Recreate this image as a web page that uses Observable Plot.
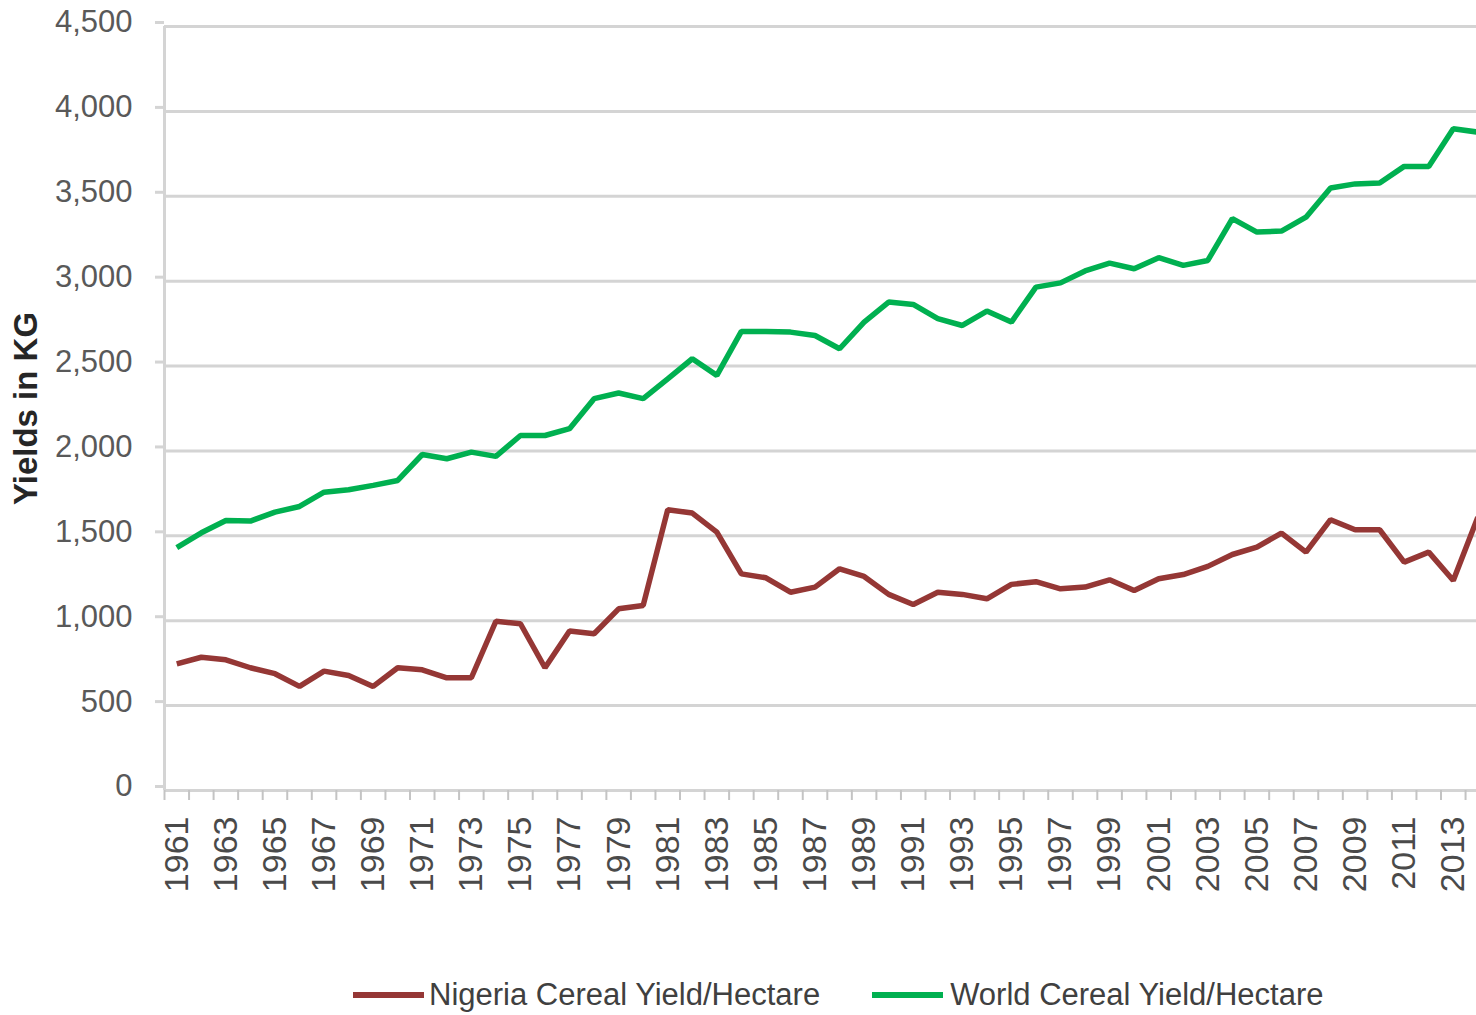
<!DOCTYPE html>
<html><head><meta charset="utf-8">
<script src="https://cdn.jsdelivr.net/npm/d3@7"></script>
<script src="https://cdn.jsdelivr.net/npm/@observablehq/plot@0.6"></script>
<style>
html,body{margin:0;padding:0;background:#fff;overflow:hidden}
#wrap{position:relative;width:1476px;height:1015px}
#wrap svg{display:block}
.legend{position:absolute;left:353px;top:977px;height:36px;display:flex;align-items:center;font-family:"Liberation Sans",Arial,sans-serif;font-size:31px;line-height:36px;color:#404040;white-space:nowrap}
.sw{display:inline-block;width:71px;height:6px}
</style></head><body><div id="wrap"></div>
<script>
const years = d3.range(1961, 2015);
const nigeria = [746,785,770,723,688,613,703,677,613,723,
  711,664,664,997,982,723,939,923,1070,1090,
  1654,1634,1522,1276,1253,1168,1198,1306,1261,1155,
  1096,1168,1155,1129,1214,1230,1188,1198,1241,1178,
  1247,1272,1320,1390,1433,1516,1404,1595,1536,1536,
  1345,1404,1237,1610];
const world = [1430,1518,1590,1587,1640,1673,1757,1771,1797,1826,
  1979,1954,1993,1968,2091,2091,2131,2308,2341,2308,
  2425,2543,2445,2704,2704,2700,2680,2602,2759,2877,
  2863,2779,2739,2824,2759,2965,2990,3060,3106,3073,
  3138,3093,3122,3368,3289,3295,3377,3549,3573,3578,
  3676,3676,3898,3878];
const seriesNames = ["Nigeria Cereal Yield/Hectare", "World Cereal Yield/Hectare"];
const seriesColors = ["#953735", "#00b050"];
const yTicks = d3.range(0, 4501, 500);
const xLabelYears = d3.range(1961, 2014, 2);
const yTitle = "Yields in KG";

const data = [
  ...years.map((yr, i) => ({year: yr, value: nigeria[i], series: seriesNames[0]})),
  ...years.map((yr, i) => ({year: yr, value: world[i], series: seriesNames[1]}))
];
const tickPos = d3.range(1960.5, 2015, 1);

const chart = Plot.plot({
  width: 1476,
  height: 940,
  marginLeft: 164,
  marginRight: 0,
  marginTop: 26,
  marginBottom: 150,
  style: {fontFamily: "'Liberation Sans', Arial, sans-serif", background: "white", overflow: "hidden"},
  x: {type: "linear", domain: [1960.5, 2014.5], range: [164, 1489.6], label: null},
  y: {domain: [0, 4500], label: null},
  color: {domain: seriesNames, range: seriesColors},
  marks: [
    Plot.gridY(yTicks, {stroke: "#d4d4d4", strokeOpacity: 1, strokeWidth: 3}),
    Plot.axisY(yTicks, {tickSize: 9, tickPadding: 23, stroke: "#d4d4d4", strokeWidth: 3, fill: "#595959",
      fontSize: 31, dy: -4, tickFormat: d3.format(","), label: null}),
    Plot.ruleX([1960.5], {stroke: "#d4d4d4", strokeWidth: 3}),
    Plot.axisX(tickPos, {tickSize: 10, stroke: "#c4c4c4", strokeWidth: 2, tickFormat: () => "", label: null}),
    Plot.axisX(xLabelYears, {tickSize: 0, tickPadding: 26, tickRotate: -90, fontSize: 34, fill: "#4a4a4a",
      tickFormat: d => String(d), label: null}),
    Plot.lineY(data, {x: "year", y: "value", z: "series", stroke: "series", strokeWidth: 5.5,
      strokeLinejoin: "miter", strokeLinecap: "butt"}),
    Plot.text([yTitle], {frameAnchor: "left", textAnchor: "middle", dx: -138, rotate: -90, fontSize: 33,
      fontWeight: "bold", fill: "#262626"})
  ]
});
const wrap = document.getElementById("wrap");
wrap.appendChild(chart);

const legend = document.createElement("div");
legend.className = "legend";
seriesNames.forEach((name, i) => {
  const sw = document.createElement("span");
  sw.className = "sw";
  sw.style.background = seriesColors[i];
  sw.style.marginRight = i === 0 ? "5px" : "7px";
  const t = document.createElement("span");
  t.textContent = name;
  if (i === 0) t.style.marginRight = "52px";
  legend.appendChild(sw);
  legend.appendChild(t);
});
wrap.appendChild(legend);
</script>
</body></html>
